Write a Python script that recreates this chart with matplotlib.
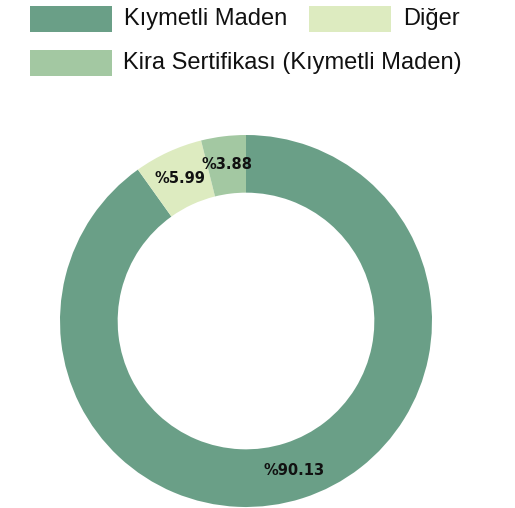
import matplotlib
matplotlib.use("Agg")
import matplotlib.pyplot as plt
from matplotlib.patches import Rectangle

categories = ["Kıymetli Maden", "Diğer", "Kira Sertifikası (Kıymetli Maden)"]
values = [90.13, 5.99, 3.88]
colors = ["#6a9f87", "#ddebc0", "#a3c8a2"]

W, H = 515, 508
fig = plt.figure(figsize=(W / 100, H / 100), dpi=100)

cx, cy, R = 246, 321, 186
ax = fig.add_axes([(cx - R) / W, (H - cy - R) / H, 2 * R / W, 2 * R / H])
wedges, texts, autotexts = ax.pie(
    values, colors=colors, startangle=90, counterclock=False, radius=1.0,
    wedgeprops=dict(width=0.31, linewidth=0),
    autopct=lambda p: "", pctdistance=0.845,
)
for t, v in zip(autotexts, values):
    t.set_text(f"%{v:.2f}")
    t.set_fontweight("bold")
    t.set_fontsize(10.5)
    t.set_color("#111111")
ax.set_xlim(-1, 1)
ax.set_ylim(-1, 1)
ax.set_aspect("equal")
ax.axis("off")

# legend (manual)
legend_items = [
    (0, 30, 6, 124),
    (1, 309, 6, 403),
    (2, 30, 50, 123),
]
for idx, x0, y0, tx in legend_items:
    fig.patches.append(Rectangle((x0 / W, 1 - (y0 + 26) / H), 82 / W, 26 / H,
                                 transform=fig.transFigure, facecolor=colors[idx],
                                 edgecolor="none"))
    fig.text(tx / W, 1 - (y0 + 13) / H, categories[idx], fontsize=17,
             family="Liberation Sans", va="center", ha="left", color="#111111")

fig.savefig("out.png", dpi=100)
